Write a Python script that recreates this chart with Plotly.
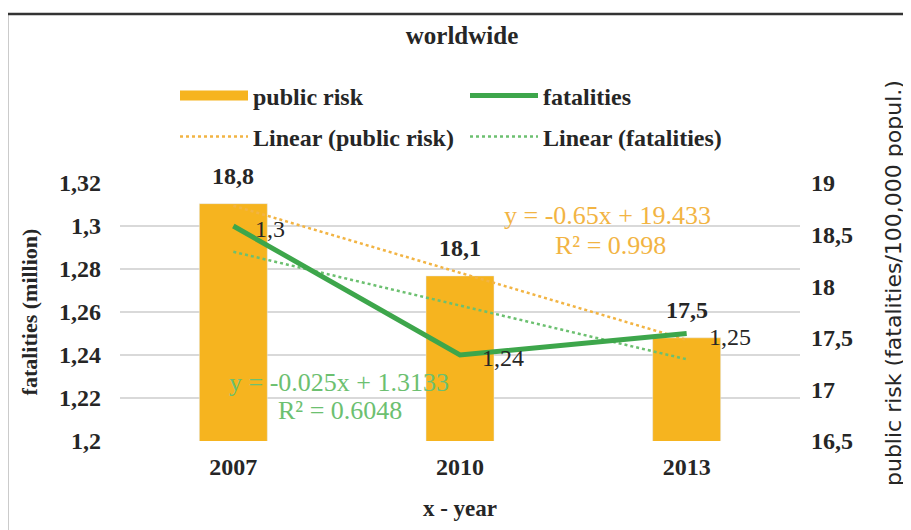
import plotly.graph_objects as go

# ---- data ----
years = ["2007", "2010", "2013"]
public_risk = [18.8, 18.1, 17.5]          # fatalities / 100,000 population (right axis)
fatalities = [1.30, 1.24, 1.25]           # million (left axis)
trend_public_risk = [18.78, 18.13, 17.48]  # Excel linear trendline values
trend_fatalities = [1.288, 1.263, 1.238]
eq_public_risk = ["y = -0.65x + 19.433", "R² = 0.998"]
eq_fatalities = ["y = -0.025x + 1.3133", "R² = 0.6048"]

ORANGE = "#F6B41F"
GREEN = "#3DA64B"
ORANGE_T = "#F2B443"
GREEN_T = "#6CC070"
FONT = "Liberation Serif"
SANS = "DejaVu Sans"
TXT = "#262626"

W, H = 911, 530
OFF = 8  # page body margin offset
L, R, T, B = 112, 119, 175, 97
PW, PH = W - L - R, H - T - B


def px_x(page_px):
    return (page_px - OFF - L) / PW


def px_y(page_py):
    return (H - B - (page_py - OFF)) / PH


def fmt(v):
    return ("%g" % v).replace(".", ",")


def bold(s):
    return "<b>%s</b>" % s


fig = go.Figure()

# bars on primary axis (displayed on the right)
fig.add_trace(go.Bar(x=years, y=public_risk, yaxis="y", xaxis="x",
                     marker_color=ORANGE, showlegend=False, name="public risk"))
# trendline public risk
fig.add_trace(go.Scatter(x=years, y=trend_public_risk, yaxis="y", xaxis="x",
                         mode="lines",
                         line=dict(color=ORANGE_T, width=2.5, dash="dot"),
                         name=bold("Linear (public risk)"), legend="legend2"))
# legend proxy for bars (no visible marks)
fig.add_trace(go.Scatter(x=years, y=[None, None, None], yaxis="y", xaxis="x",
                         mode="lines", line=dict(color=ORANGE, width=10),
                         name=bold("public risk"), legend="legend"))
# fatalities line on secondary axis (displayed on the left)
fig.add_trace(go.Scatter(x=years, y=trend_fatalities, yaxis="y2", xaxis="x",
                         mode="lines",
                         line=dict(color=GREEN_T, width=2.5, dash="dot"),
                         name=bold("Linear (fatalities)"), legend="legend2"))
fig.add_trace(go.Scatter(x=years, y=fatalities, yaxis="y2", xaxis="x",
                         mode="lines", line=dict(color=GREEN, width=5),
                         name=bold("fatalities"), legend="legend"))

annotations = []
for i, v in enumerate(public_risk):
    annotations.append(dict(x=i, y=v, xref="x", yref="y", text=bold(fmt(v)),
                            showarrow=False, xanchor="center", yanchor="middle",
                            yshift=28,
                            font=dict(family=FONT, size=24, color=TXT)))
for i, v in enumerate(fatalities):
    annotations.append(dict(x=i, y=v, xref="x", yref="y2", text=fmt(v),
                            showarrow=False, xanchor="left", yanchor="middle",
                            xshift=20, yshift=-3,
                            font=dict(family=FONT, size=24, color=TXT)))
# equations
annotations.append(dict(x=px_x(607), y=px_y(215), xref="paper", yref="paper",
                        text=eq_public_risk[0], showarrow=False, xanchor="center",
                        yanchor="middle",
                        font=dict(family=FONT, size=26, color=ORANGE_T)))
annotations.append(dict(x=px_x(610), y=px_y(245), xref="paper", yref="paper",
                        text=eq_public_risk[1], showarrow=False, xanchor="center",
                        yanchor="middle",
                        font=dict(family=FONT, size=26, color=ORANGE_T)))
annotations.append(dict(x=px_x(339), y=px_y(382), xref="paper", yref="paper",
                        text=eq_fatalities[0], showarrow=False, xanchor="center",
                        yanchor="middle",
                        font=dict(family=FONT, size=26, color=GREEN_T)))
annotations.append(dict(x=px_x(340), y=px_y(410), xref="paper", yref="paper",
                        text=eq_fatalities[1], showarrow=False, xanchor="center",
                        yanchor="middle",
                        font=dict(family=FONT, size=26, color=GREEN_T)))
# right axis title
annotations.append(dict(x=px_x(893), y=px_y(283), xref="paper", yref="paper",
                        text="public risk (fatalities/100,000 popul.)",
                        textangle=-90, showarrow=False, xanchor="center",
                        yanchor="middle",
                        font=dict(family=SANS, size=22, color=TXT)))

fig.update_layout(
    width=W, height=H,
    margin=dict(l=L, r=R, t=T, b=B),
    paper_bgcolor="white", plot_bgcolor="white",
    separators=",.",
    font=dict(family=FONT, size=24, color=TXT),
    title=dict(text="worldwide", x=px_x(462), xref="paper", xanchor="center",
               y=1 - 27 / H, yanchor="middle",
               font=dict(family=FONT, size=25, color=TXT, weight="bold")),
    bargap=0.7,
    xaxis=dict(type="category", range=[-0.5, 2.5], categoryorder="array",
               categoryarray=years, showgrid=False, showline=False, ticks="",
               ticklabelstandoff=9,
               tickfont=dict(family=FONT, size=24, color=TXT, weight="bold"),
               title=dict(text="x - year", standoff=20,
                          font=dict(family=FONT, size=23, color=TXT, weight="bold"))),
    yaxis=dict(side="right", range=[16.5, 19], dtick=0.5, tick0=16.5,
               showgrid=False, zeroline=False, showline=False,
               ticklabelstandoff=10,
               tickfont=dict(family=FONT, size=24, color=TXT, weight="bold")),
    yaxis2=dict(side="left", overlaying="y", range=[1.2, 1.32], dtick=0.02,
                tick0=1.2, showgrid=True, gridcolor="#D9D9D9", gridwidth=2,
                zeroline=False, showline=False, ticklabelstandoff=18,
                tickfont=dict(family=FONT, size=24, color=TXT, weight="bold"),
                title=dict(text="fatalities (million)", standoff=15,
                           font=dict(family=FONT, size=22, color=TXT, weight="bold"))),
    legend=dict(orientation="h", x=px_x(175), xanchor="left",
                y=px_y(96), yanchor="middle", itemwidth=68, entrywidth=207,
                font=dict(family=FONT, size=24, color=TXT),
                bgcolor="rgba(0,0,0,0)"),
    legend2=dict(orientation="h", x=px_x(175), xanchor="left",
                 y=px_y(137), yanchor="middle", itemwidth=68, entrywidth=207,
                 font=dict(family=FONT, size=24, color=TXT),
                 bgcolor="rgba(0,0,0,0)"),
    annotations=annotations,
    shapes=[dict(type="rect", xref="paper", yref="paper",
                 x0=px_x(7), x1=px_x(940), y0=px_y(580), y1=px_y(14),
                 line=dict(color="#333333", width=2.5), layer="above")],
)

fig.write_html("out.html")
